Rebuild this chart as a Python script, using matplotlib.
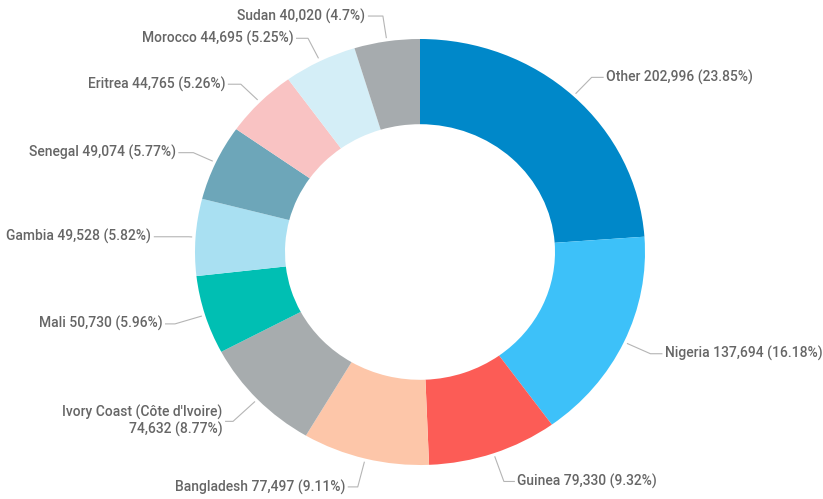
import numpy as np
import matplotlib
matplotlib.use("Agg")
import matplotlib.pyplot as plt

# ---- data ----
countries = ["Other", "Nigeria", "Guinea", "Bangladesh", "Ivory Coast (Côte d'Ivoire)",
             "Mali", "Gambia", "Senegal", "Eritrea", "Morocco", "Sudan"]
values = [202996, 137694, 79330, 77497, 74632, 50730, 49528, 49074, 44765, 44695, 40020]
percents = ["23.85%", "16.18%", "9.32%", "9.11%", "8.77%", "5.96%", "5.82%",
            "5.77%", "5.26%", "5.25%", "4.7%"]
colors = ["#0088C9", "#3DC1F9", "#FC5C56", "#FDC6A9", "#A7ACAE", "#00BFB3",
          "#A9E0F2", "#6DA6B9", "#F9C3C3", "#D4EEF7", "#A6ABAE"]

# ---- layout (label elbow radius, horizontal gap in px) ----
elbow_r = [1.12, 1.13, 1.14, 1.137, 1.15, 1.14, 1.03, 1.11, 1.12, 1.12, 1.12]
gap_px = [12, 12, 11, 10, 8, 10, 35, 15, 13, 12, 15]

W, H = 823, 499
cx, cy = 420, 252      # pixel centre
rx, ry = 225, 213      # pixel radii

fig = plt.figure(figsize=(W / 100, H / 100), dpi=100)
ax = fig.add_axes([0, 0, 1, 1])

wedges, _ = ax.pie(values, colors=colors, startangle=90, counterclock=False,
                   radius=1.0, wedgeprops=dict(width=0.4, linewidth=0))
ax.set_aspect("auto")
ax.set_xlim(-cx / rx, (W - cx) / rx)
ax.set_ylim(-(H - cy) / ry, cy / ry)
ax.axis("off")

txt_color = "#666666"
line_color = "#b5b5b5"
for i, w in enumerate(wedges):
    ang = np.deg2rad((w.theta1 + w.theta2) / 2.0)
    dx, dy = np.cos(ang), np.sin(ang)
    r0 = 1.015
    r1 = elbow_r[i]
    x0, y0 = r0 * dx, r0 * dy
    x1, y1 = r1 * dx, r1 * dy
    side = 1 if dx >= 0 else -1
    g = gap_px[i] / rx
    x2 = x1 + side * g
    ax.plot([x0, x1, x2], [y0, y1, y1], color=line_color, lw=0.8,
            solid_capstyle="butt")
    val = f"{values[i]:,}"
    if countries[i].startswith("Ivory"):
        label = f"{countries[i]}\n{val} ({percents[i]})"
    else:
        label = f"{countries[i]} {val} ({percents[i]})"
    ax.text(x2 + side * 2.5 / rx, y1, label, ha="left" if side > 0 else "right",
            va="center", fontsize=10, color=txt_color, family="Roboto",
            fontweight="medium", multialignment="right", linespacing=1.15)

fig.savefig("out.png", dpi=100, facecolor="white")
